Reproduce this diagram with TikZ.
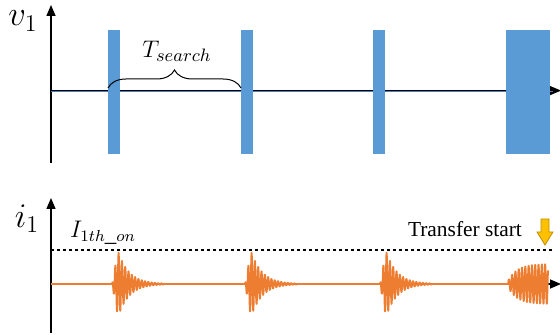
\documentclass[tikz,border=0pt]{standalone}
\usepackage{fontspec}
\setmainfont{Liberation Serif}
\usetikzlibrary{arrows.meta,decorations.pathreplacing}
\definecolor{pblue}{HTML}{5B9BD5}
\definecolor{pline}{HTML}{4A7EBB}
\definecolor{porange}{HTML}{ED7D31}
\definecolor{pgold}{HTML}{FFC000}
\definecolor{pgoldline}{HTML}{BF9000}
\begin{document}
\begin{tikzpicture}[x=0.5pt,y=-0.5pt,
  axis/.style={line width=0.75pt,-{Triangle[length=5.5pt,width=4.5pt]}},
  pulse/.style={fill=pblue,draw=none},
  burst/.style={porange,line width=0.9pt,line join=round},
  bigmath/.style={font=\fontsize{18.5}{20}\selectfont,inner sep=0pt},
  lbl/.style={font=\fontsize{11.5}{13}\selectfont}]
\useasboundingbox (0,0) rectangle (560,335);
% ---------- top plot ----------
\coordinate (vt0) at (51,163);
\coordinate (vt1) at (51,5);
\coordinate (ht0) at (51,90.6);
\coordinate (ht1) at (561,90.6);
\coordinate (hb0) at (51,91.6);
\coordinate (hb1) at (553,91.6);
\draw[axis] (vt0) -- (vt1);
\draw[axis,line width=0.45pt] (ht0) -- (ht1);
\draw[pline,line width=0.75pt] (hb0) -- (hb1);
\fill[pulse] (108,30) rectangle (120,154);
\fill[pulse] (241,30) rectangle (253,154);
\fill[pulse] (373,30) rectangle (385,154);
\fill[pulse] (506,30) rectangle (550,154);
\coordinate (br0) at (108,88);
\coordinate (br1) at (241,88);
\draw[line width=0.5pt,decorate,decoration={brace,amplitude=9pt}] (br0) -- (br1);
\node[lbl,font=\fontsize{12.5}{14}\selectfont] (tsearch) at (177,51) {$T_{search}$};
\node[bigmath] (v1) at (23,21) {$v_1$};
% ---------- bottom plot ----------
\coordinate (vb0) at (51,333);
\coordinate (vb1) at (51,198);
\coordinate (hx0) at (51,284);
\coordinate (hx1) at (561,284);
\coordinate (ho0) at (51,284);
\coordinate (ho1) at (510,284);
\coordinate (d0) at (51,250);
\coordinate (d1) at (553,250);
\draw[axis] (vb0) -- (vb1);
\draw[axis] (hx0) -- (hx1);
\draw[porange,line width=0.8pt] (ho0) -- (ho1);
\draw[line width=0.85pt,dash pattern=on 1.6pt off 1.4pt] (d0) -- (d1);
\foreach \s in {112,245,380}{
  \draw[burst] plot[domain=0:52,samples=420]
    ({\s+\x},{284 - 33*min(\x/6,1)*exp(-max(\x-6,0)/11)*sin(109.0909*(\x+0.8))});
}
\draw[burst] plot[domain=0:40,samples=400]
    ({508+\x},{284 - 20*(1-exp(-(\x+1.5)/9))*sin(109.0909*\x)});
\node[bigmath] (i1) at (27,219) {$i_1$};
\node[lbl,anchor=west] (ith) at (63,233) {$I_{1th\_on}$};
\node[font=\fontsize{10.7}{12}\selectfont,anchor=east] (tstart) at (529,229) {Transfer start};
\draw[fill=pgold,draw=pgoldline,line width=0.4pt]
  (541,219) -- (549,219) -- (549,232) -- (553,232) -- (545,245) -- (537,232) -- (541,232) -- cycle;
\end{tikzpicture}
\end{document}
